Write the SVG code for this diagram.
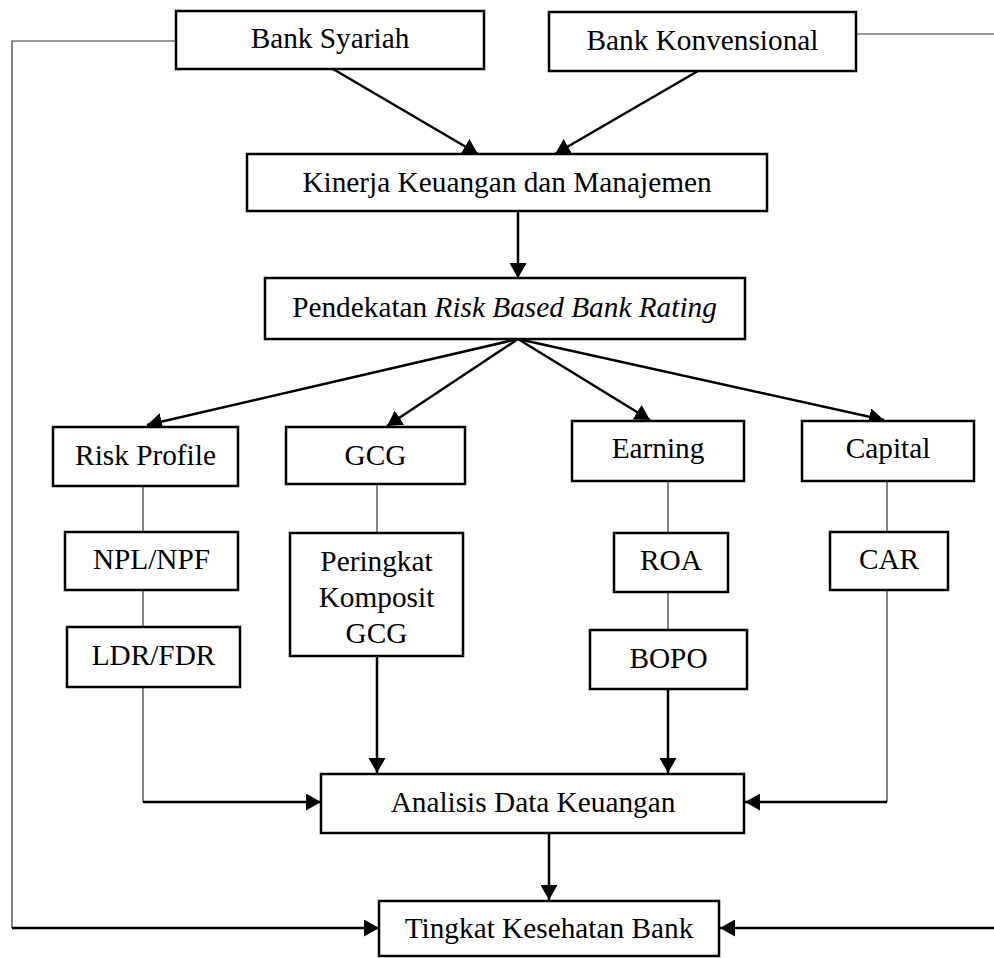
<svg xmlns="http://www.w3.org/2000/svg" width="994" height="958" viewBox="0 0 994 958">
<style>
.box{fill:#fff;stroke:#000;stroke-width:2.5}
.t{font-family:"Liberation Serif","Times New Roman",serif;font-size:29.3px;fill:#000;text-anchor:middle}
.c{fill:none;stroke:#000;stroke-width:2.5}
.th{fill:none;stroke:#333;stroke-width:1.2}
</style>
<defs>
<marker id="ah" markerUnits="userSpaceOnUse" markerWidth="15" markerHeight="17" refX="15" refY="8.5" orient="auto">
<path d="M0,0 L15,8.5 L0,17 z" fill="#000"/>
</marker>
</defs>
<rect width="994" height="958" fill="#fff"/>
<g id="connectors">
<path class="th" d="M176,41 H12 V928"/>
<path class="c" d="M12,928 H379" marker-end="url(#ah)"/>
<path class="th" d="M856,34 H998"/>
<path class="c" d="M998,928 H720" marker-end="url(#ah)"/>
<path class="c" d="M333,69 L478,154" marker-end="url(#ah)"/>
<path class="c" d="M698,71 L555,154" marker-end="url(#ah)"/>
<path class="c" d="M518,211 V278" marker-end="url(#ah)"/>
<path class="c" d="M518,339 L147,425" marker-end="url(#ah)"/>
<path class="c" d="M518,339 L387,426" marker-end="url(#ah)"/>
<path class="c" d="M518,339 L650,420" marker-end="url(#ah)"/>
<path class="c" d="M518,339 L884,420" marker-end="url(#ah)"/>
<path class="th" d="M143,486 V532 M143,590 V627 M143,687 V802"/>
<path class="c" d="M143,802 H321" marker-end="url(#ah)"/>
<path class="th" d="M377,484 V533"/>
<path class="c" d="M377,656 V773" marker-end="url(#ah)"/>
<path class="th" d="M668,481 V533 M668,592 V630"/>
<path class="c" d="M668,689 V773" marker-end="url(#ah)"/>
<path class="th" d="M887,481 V532 M887,590 V802"/>
<path class="c" d="M887,802 H745" marker-end="url(#ah)"/>
<path class="c" d="M549,833 V900" marker-end="url(#ah)"/>
</g>
<g id="bank-syariah"><rect class="box" x="176" y="11" width="308" height="58"/><text class="t" x="330" y="48">Bank Syariah</text></g>
<g id="bank-konvensional"><rect class="box" x="549" y="12" width="307" height="59"/><text class="t" x="702.5" y="50">Bank Konvensional</text></g>
<g id="kinerja"><rect class="box" x="247" y="154" width="520" height="57"/><text class="t" x="507" y="192">Kinerja Keuangan dan Manajemen</text></g>
<g id="pendekatan"><rect class="box" x="265" y="278" width="480" height="61"/><text class="t" x="504.5" y="317">Pendekatan <tspan font-style="italic">Risk Based Bank Rating</tspan></text></g>
<g id="risk-profile"><rect class="box" x="53" y="427" width="185" height="59"/><text class="t" x="145.5" y="465">Risk Profile</text></g>
<g id="gcg"><rect class="box" x="286" y="427" width="179" height="57"/><text class="t" x="375.5" y="465">GCG</text></g>
<g id="earning"><rect class="box" x="572" y="421" width="172" height="60"/><text class="t" x="658" y="458">Earning</text></g>
<g id="capital"><rect class="box" x="802" y="421" width="172" height="60"/><text class="t" x="888" y="458">Capital</text></g>
<g id="npl-npf"><rect class="box" x="65" y="532" width="173" height="58"/><text class="t" x="151.5" y="569">NPL/NPF</text></g>
<g id="ldr-fdr"><rect class="box" x="67" y="627" width="173" height="60"/><text class="t" x="153.5" y="665">LDR/FDR</text></g>
<g id="peringkat"><rect class="box" x="290" y="533" width="173" height="123"/><text class="t" x="376.5" y="571">Peringkat</text><text class="t" x="376.5" y="607">Komposit</text><text class="t" x="376.5" y="643">GCG</text></g>
<g id="roa"><rect class="box" x="614" y="533" width="114" height="59"/><text class="t" x="671" y="570">ROA</text></g>
<g id="bopo"><rect class="box" x="590" y="630" width="157" height="59"/><text class="t" x="668.5" y="668">BOPO</text></g>
<g id="car"><rect class="box" x="830" y="532" width="118" height="58"/><text class="t" x="889" y="569">CAR</text></g>
<g id="analisis"><rect class="box" x="321" y="774" width="423" height="59"/><text class="t" x="533" y="812">Analisis Data Keuangan</text></g>
<g id="tingkat"><rect class="box" x="379" y="901" width="340" height="55"/><text class="t" x="549" y="938">Tingkat Kesehatan Bank</text></g>
</svg>
